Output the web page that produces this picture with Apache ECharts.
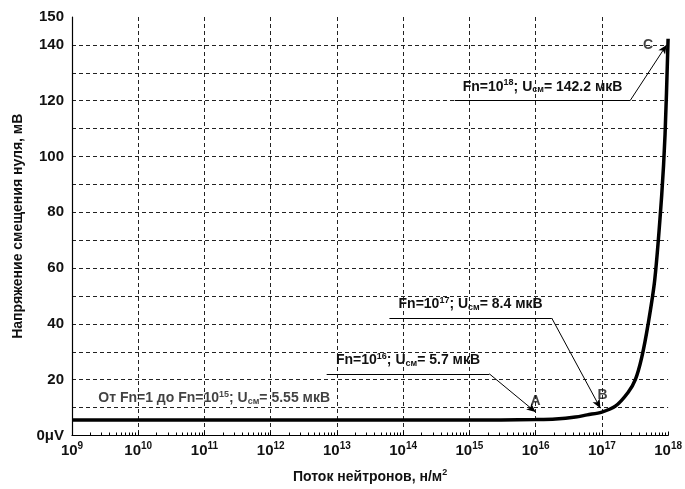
<!DOCTYPE html>
<html>
<head>
<meta charset="utf-8">
<script src="https://cdn.jsdelivr.net/npm/echarts@6/dist/echarts.min.js"></script>
<style>html,body{margin:0;padding:0;background:#fff}#c{width:685px;height:489px}</style>
</head>
<body>
<div id="c"></div>
<script>
// Curve data: neutron fluence (н/м²) vs zero-offset voltage
const fluence = [1e9, 1e15, 3e15, 1e16, 2e16, 4e16, 6e16, 1e17, 1.6e17, 2.5e17, 3.2e17, 4e17, 5e17, 6.3e17, 8e17, 9e17, 1e18];
const voltage = [5.55, 5.55, 5.58, 5.7, 5.9, 6.6, 7.4, 8.4, 10.5, 15.5, 20, 28, 40, 56, 86, 108, 142.2];

// Y tick labels shown
const yLabelValues = [0, 20, 40, 60, 80, 100, 120, 140, 150];

// Annotation callouts: text, underline start/end x, underline y, arrow target x/y
const calloutTexts = [
  'Fn=10{sup|18}; U{sub|см}= 142.2 мкВ',
  'Fn=10{sup|17}; U{sub|см}= 8.4 мкВ',
  'Fn=10{sup|16}; U{sub|см}= 5.7 мкВ'
];
const calloutX1 = [6e14, 6.2e13, 7e12];
const calloutX2 = [2.7e17, 1.75e16, 2e15];
const calloutY = [120.2, 42.1, 22.1];
const calloutTargetX = [9.5e17, 9.5e16, 1e16];
const calloutTargetY = [140, 9.8, 8.4];

// Free text notes
const noteTexts = ['От Fn=1 до Fn=10{sup|15}; U{sub|см}= 5.55 мкВ', 'A', 'B', 'C'];
const noteX = [1.4e11, 1e16, 1.02e17, 5e17];
const noteY = [13.3, 12.3, 14.4, 139.8];

const FONT = '"Liberation Sans", Arial, sans-serif';
const TXT = '#111';
const rich = {
  sup: {fontSize: 9, fontWeight: 'bold', fontFamily: FONT, color: TXT, padding: [0, 0, 8, 0]},
  sub: {fontSize: 9, fontWeight: 'bold', fontFamily: FONT, color: TXT, padding: [6, 0, 0, 0]}
};
const richAxis = {
  sup: {fontSize: 10, fontWeight: 'bold', fontFamily: FONT, color: TXT, padding: [0, 0, 9, 0]}
};

const chart = echarts.init(document.getElementById('c'), null, {renderer: 'canvas'});

const markData = [];
for (let i = 0; i < calloutTexts.length; i++) {
  markData.push([
    {coord: [calloutX1[i], calloutY[i]], symbol: 'none',
     label: {show: true, position: 'insideMiddleTop', distance: 5, formatter: calloutTexts[i],
             fontSize: 14, fontWeight: 'bold', fontFamily: FONT, color: TXT, rich: rich}},
    {coord: [calloutX2[i], calloutY[i]], symbol: 'none'}
  ]);
  markData.push([
    {coord: [calloutX2[i], calloutY[i]], symbol: 'none', label: {show: false}},
    {coord: [calloutTargetX[i], calloutTargetY[i]], symbol: 'arrow', symbolSize: [6, 9]}
  ]);
}

const option = {
  animation: false,
  backgroundColor: '#fff',
  grid: {left: 72, right: 16, top: 17, bottom: 45},
  xAxis: {
    type: 'log',
    logBase: 10,
    min: 1e9,
    max: 1e18,
    name: 'Поток нейтронов, н/м{sup|2}',
    nameLocation: 'middle',
    nameGap: 33,
    nameTextStyle: {fontSize: 14, fontWeight: 'bold', fontFamily: FONT, color: TXT, rich: rich},
    axisLine: {lineStyle: {color: '#000', width: 1.2}},
    axisTick: {show: true, inside: true, length: 4, lineStyle: {color: '#000'}},
    minorTick: {show: true, splitNumber: 10, length: 3, lineStyle: {color: '#000'}},
    axisLabel: {
      margin: 6,
      fontSize: 15, fontWeight: 'bold', fontFamily: FONT, color: TXT,
      formatter: function (v) { return '10{sup|' + Math.round(Math.log10(v)) + '}'; },
      rich: richAxis
    },
    splitLine: {show: true, showMaxLine: false, showMinLine: false,
                lineStyle: {color: '#222', type: [4, 3], width: 1}}
  },
  yAxis: {
    type: 'value',
    min: 0,
    max: 150,
    interval: 10,
    name: 'Напряжение смещения нуля, мВ',
    nameLocation: 'middle',
    nameGap: 46,
    nameTextStyle: {fontSize: 14, fontWeight: 'bold', fontFamily: FONT, color: TXT},
    axisLine: {show: true, lineStyle: {color: '#000', width: 1.2}},
    axisTick: {show: false},
    axisLabel: {
      margin: 8,
      fontSize: 15, fontWeight: 'bold', fontFamily: FONT, color: TXT,
      formatter: function (v) {
        if (yLabelValues.indexOf(v) < 0) return '';
        return v === 0 ? '0μV' : String(v);
      }
    },
    splitLine: {show: true, showMaxLine: false, showMinLine: false,
                lineStyle: {color: '#222', type: [4, 3], width: 1}}
  },
  series: [
    {
      type: 'line',
      data: fluence.map((x, i) => [x, voltage[i]]),
      showSymbol: false,
      smooth: 0.3,
      lineStyle: {color: '#000', width: 3.5},
      z: 5,
      markLine: {
        silent: true,
        symbol: ['none', 'arrow'],
        lineStyle: {color: '#000', width: 1, type: 'solid'},
        label: {show: false},
        data: markData
      }
    },
    {
      type: 'scatter',
      symbolSize: 0,
      silent: true,
      z: 6,
      data: noteX.map((x, i) => [x, noteY[i], noteTexts[i]]),
      label: {
        show: true,
        position: 'inside',
        formatter: function (p) { return p.data[2]; },
        fontSize: 14, fontWeight: 'bold', fontFamily: FONT, color: TXT,
        rich: rich
      }
    }
  ]
};
chart.setOption(option);
</script>
</body>
</html>
